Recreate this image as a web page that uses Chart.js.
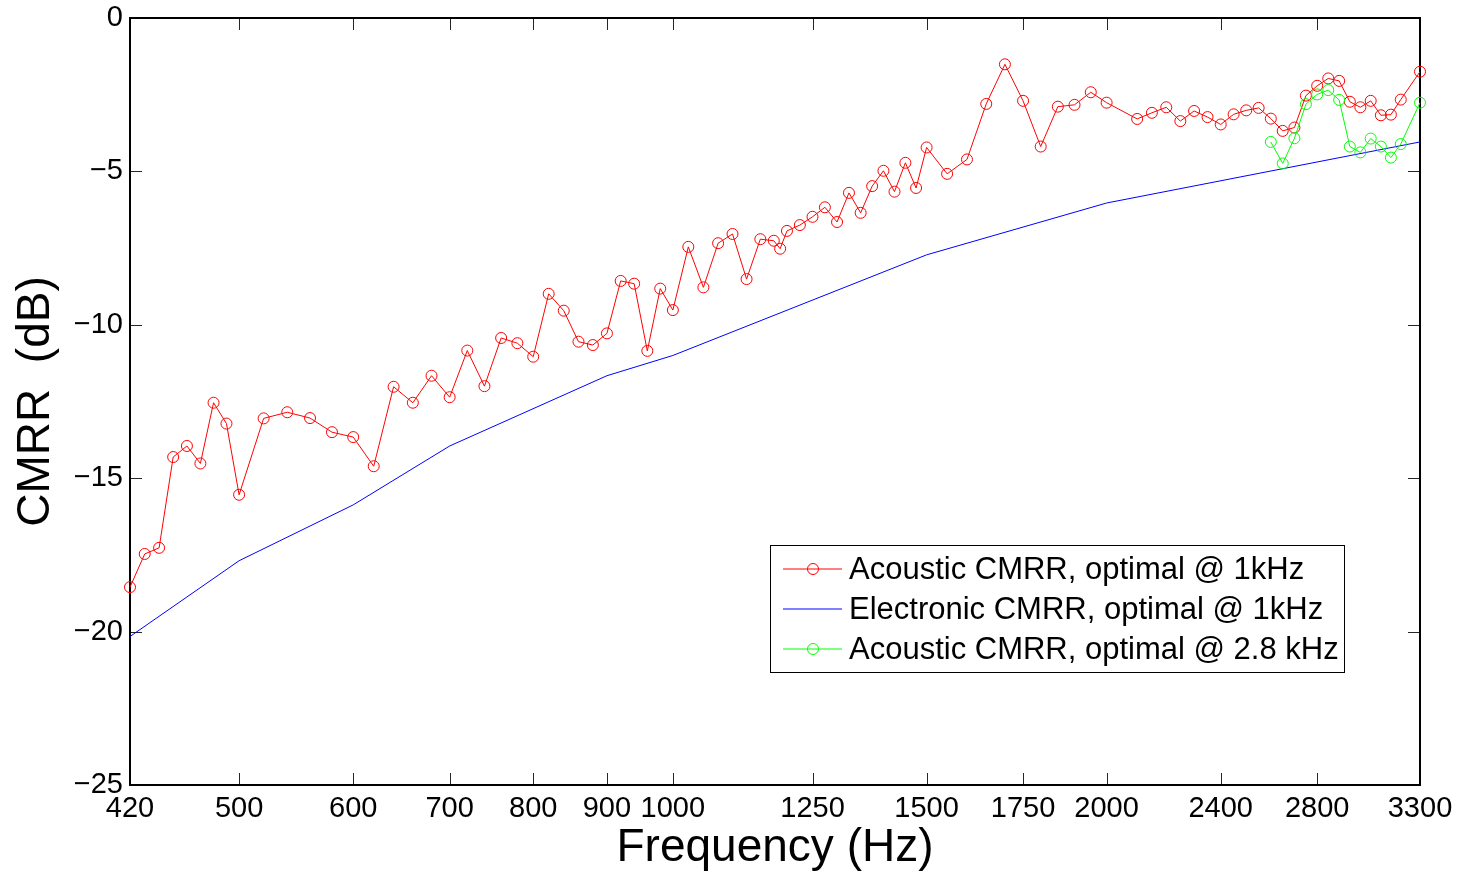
<!DOCTYPE html>
<html>
<head>
<meta charset="utf-8">
<script src="https://cdn.jsdelivr.net/npm/chart.js@4.4.1/dist/chart.umd.min.js"></script>
<style>
html, body { margin: 0; padding: 0; background: #fff; }
</style>
</head>
<body>
<canvas id="myChart" width="1460" height="872"></canvas>
<script>
// frequency (Hz) and CMRR (dB)
var freqAcoustic = [420, 430, 440, 450, 460, 470, 480, 490, 500, 520, 540, 560, 580, 600, 620, 640, 660, 680, 700,
  720, 740, 760, 780, 800, 820, 840, 860, 880, 900, 920, 940, 960, 980, 1000, 1025, 1050, 1075, 1100, 1125, 1150,
  1175, 1187, 1200, 1225, 1250, 1275, 1300, 1325, 1350, 1375, 1400, 1425, 1450, 1475, 1500, 1550, 1600, 1650, 1700,
  1750, 1800, 1850, 1900, 1950, 2000, 2100, 2150, 2200, 2250, 2300, 2350, 2400, 2450, 2500, 2550, 2600, 2650, 2700,
  2750, 2800, 2850, 2900, 2950, 3000, 3050, 3100, 3150, 3200, 3300];
var cmrrAcoustic = [-18.55, -17.47, -17.27, -14.31, -13.95, -14.52, -12.54, -13.22, -15.54, -13.05, -12.85, -13.04,
  -13.50, -13.66, -14.61, -12.02, -12.54, -11.66, -12.36, -10.84, -12.00, -10.43, -10.60, -11.04, -8.99, -9.54,
  -10.55, -10.66, -10.28, -8.57, -8.66, -10.85, -8.82, -9.52, -7.46, -8.78, -7.34, -7.04, -8.51, -7.21, -7.26, -7.52,
  -6.94, -6.75, -6.48, -6.17, -6.65, -5.70, -6.35, -5.48, -4.98, -5.66, -4.72, -5.54, -4.22, -5.08, -4.61, -2.80,
  -1.51, -2.70, -4.19, -2.89, -2.83, -2.42, -2.76, -3.29, -3.09, -2.91, -3.36, -3.03, -3.23, -3.47, -3.14, -3.01,
  -2.93, -3.28, -3.68, -3.57, -2.53, -2.21, -1.97, -2.05, -2.73, -2.91, -2.70, -3.17, -3.15, -2.66, -1.75];

var freqElectronic = [420, 500, 600, 700, 900, 1000, 1500, 2000, 3300];
var cmrrElectronic = [-20.16, -17.69, -15.87, -13.95, -11.66, -11.0, -7.72, -6.03, -4.04];

var freq28 = [2600, 2650, 2700, 2750, 2800, 2850, 2900, 2950, 3000, 3050, 3100, 3150, 3200, 3300];
var cmrr28 = [-4.04, -4.74, -3.92, -2.81, -2.49, -2.35, -2.67, -4.19, -4.38, -3.93, -4.19, -4.55, -4.11, -2.76];

var xTicks = [420, 500, 600, 700, 800, 900, 1000, 1250, 1500, 1750, 2000, 2400, 2800, 3300];
var yTicks = [0, -5, -10, -15, -20, -25];

var FONT = '"Liberation Sans", Arial, Helvetica, sans-serif';

function pts(xs, ys) {
  return xs.map(function (x, i) { return { x: x, y: ys[i] }; });
}

// matlab style box with inward ticks
var boxPlugin = {
  id: 'matlabBox',
  beforeDatasetsDraw: function (chart) {
    var ctx = chart.ctx, a = chart.chartArea;
    var sx = chart.scales.x, sy = chart.scales.y;
    var tl = 12;
    ctx.save();
    ctx.strokeStyle = '#262626';
    ctx.lineWidth = 1;
    ctx.beginPath();
    xTicks.forEach(function (v) {
      var px = Math.round(sx.getPixelForValue(v)) + 0.5;
      ctx.moveTo(px, a.bottom); ctx.lineTo(px, a.bottom - tl);
      ctx.moveTo(px, a.top); ctx.lineTo(px, a.top + tl);
    });
    yTicks.forEach(function (v) {
      var py = Math.round(sy.getPixelForValue(v)) + 0.5;
      ctx.moveTo(a.left, py); ctx.lineTo(a.left + tl, py);
      ctx.moveTo(a.right, py); ctx.lineTo(a.right - tl, py);
    });
    ctx.stroke();
    ctx.strokeStyle = '#000';
    ctx.lineWidth = 2;
    ctx.strokeRect(a.left, a.top, a.right - a.left, a.bottom - a.top);
    ctx.restore();
  }
};

var legendPlugin = {
  id: 'boxLegend',
  afterDraw: function (chart) {
    var ctx = chart.ctx;
    var x0 = 770, y0 = 545, w = 574, h = 127;
    ctx.save();
    ctx.fillStyle = '#fff';
    ctx.fillRect(x0, y0, w, h);
    ctx.strokeStyle = '#000';
    ctx.lineWidth = 1;
    ctx.strokeRect(x0 + 0.5, y0 + 0.5, w, h);
    chart.data.datasets.forEach(function (ds, i) {
      var cy = y0 + 24 + i * 40;
      ctx.strokeStyle = ds.borderColor;
      ctx.lineWidth = 1;
      ctx.beginPath();
      ctx.moveTo(x0 + 13, cy);
      ctx.lineTo(x0 + 72, cy);
      ctx.stroke();
      if (ds.pointRadius > 0) {
        ctx.beginPath();
        ctx.arc(x0 + 43, cy, 5.5, 0, 2 * Math.PI);
        ctx.stroke();
      }
      ctx.fillStyle = '#000';
      ctx.font = '31px ' + FONT;
      ctx.textBaseline = 'middle';
      ctx.fillText(ds.label, x0 + 79, cy + 1);
    });
    ctx.restore();
  }
};

var ctx = document.getElementById('myChart').getContext('2d');
var chart = new Chart(ctx, {
  type: 'line',
  data: {
    datasets: [{
      label: 'Acoustic CMRR, optimal @ 1kHz',
      data: pts(freqAcoustic, cmrrAcoustic),
      borderColor: '#ff0000',
      backgroundColor: 'transparent',
      borderWidth: 1,
      pointRadius: 5.5,
      pointBorderWidth: 1,
      pointBackgroundColor: 'transparent',
      clip: false,
      order: 2
    }, {
      label: 'Electronic CMRR, optimal @ 1kHz',
      data: pts(freqElectronic, cmrrElectronic),
      borderColor: '#0000ff',
      backgroundColor: 'transparent',
      borderWidth: 1,
      pointRadius: 0,
      clip: false,
      order: 1
    }, {
      label: 'Acoustic CMRR, optimal @ 2.8 kHz',
      data: pts(freq28, cmrr28),
      borderColor: '#00ff00',
      backgroundColor: 'transparent',
      borderWidth: 1,
      pointRadius: 5.5,
      pointBorderWidth: 1,
      pointBackgroundColor: 'transparent',
      clip: false,
      order: 0
    }]
  },
  options: {
    responsive: false,
    animation: false,
    devicePixelRatio: 1,
    elements: { line: { tension: 0 } },
    layout: { padding: { top: 18, right: 40, left: 0, bottom: 0 } },
    plugins: { legend: { display: false }, tooltip: { enabled: false } },
    scales: {
      x: {
        type: 'logarithmic',
        min: 420,
        max: 3300,
        afterBuildTicks: function (s) { s.ticks = xTicks.map(function (v) { return { value: v }; }); },
        afterFit: function (s) { s.height = 87; s.paddingLeft = 0; s.paddingRight = 0; },
        grid: { display: false, drawTicks: false },
        border: { display: false },
        ticks: {
          autoSkip: false,
          maxRotation: 0,
          padding: 7,
          color: '#000',
          font: { size: 29, family: FONT },
          callback: function (v) { return String(v); }
        },
        title: { display: true, text: 'Frequency (Hz)', color: '#000', font: { size: 46, family: FONT, lineHeight: 1.05 }, padding: 0 }
      },
      y: {
        type: 'linear',
        min: -25,
        max: 0,
        afterBuildTicks: function (s) { s.ticks = yTicks.map(function (v) { return { value: v }; }); },
        afterFit: function (s) { s.width = 130; s.paddingTop = 0; s.paddingBottom = 0; },
        grid: { display: false, drawTicks: false },
        border: { display: false },
        ticks: {
          padding: 7,
          color: '#000',
          font: { size: 29, family: FONT },
          callback: function (v) { return v < 0 ? '\u2212' + Math.abs(v) : String(v); }
        },
        title: { display: true, text: 'CMRR  (dB)', color: '#000', font: { size: 46, family: FONT }, padding: { top: 9, bottom: 0 } }
      }
    }
  },
  plugins: [boxPlugin, legendPlugin]
});
</script>
</body>
</html>
